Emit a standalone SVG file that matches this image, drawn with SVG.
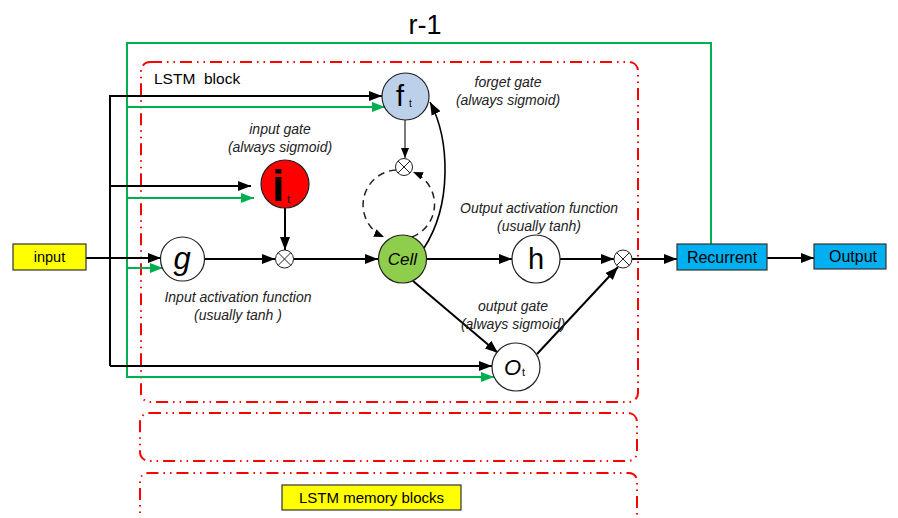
<svg xmlns="http://www.w3.org/2000/svg" width="898" height="518" viewBox="0 0 898 518">
<style>
text{font-family:"Liberation Sans",Arial,sans-serif;fill:#000}
.lbl{font-size:14px;font-style:italic;text-anchor:middle;fill:#222}
.blk{fill:none;stroke:#ff0000;stroke-width:2;stroke-dasharray:12 5 1.5 5 1.5 5}
.bl{fill:none;stroke:#000;stroke-width:2}
.gr{fill:none;stroke:#00b050;stroke-width:2}
.node{stroke:#222;stroke-width:1.2}
.mul circle{fill:#fff;stroke:#222;stroke-width:1}
.mul path{stroke:#222;stroke-width:1}
.box{stroke:#333;stroke-width:1.2}
</style>
<defs>
<marker id="ab" markerUnits="userSpaceOnUse" markerWidth="13" markerHeight="10" refX="13" refY="5" orient="auto"><path d="M0,0 L13,5 L0,10 z" fill="#000"/></marker>
<marker id="ag" markerUnits="userSpaceOnUse" markerWidth="13" markerHeight="10" refX="13" refY="5" orient="auto"><path d="M0,0 L13,5 L0,10 z" fill="#00b050"/></marker>
<marker id="as" markerUnits="userSpaceOnUse" markerWidth="10" markerHeight="8" refX="10" refY="4" orient="auto"><path d="M0,0 L10,4 L0,8 z" fill="#000"/></marker>
</defs>

<text x="425" y="34" font-size="27" text-anchor="middle">r-1</text>

<g id="blocks">
<rect class="blk" x="141" y="62" width="497" height="340" rx="9"/>
<rect class="blk" x="140" y="413" width="497" height="48" rx="9"/>
<path class="blk" d="M140,530 V482 Q140,473 149,473 H628 Q637,473 637,482 V530"/>
<text x="154" y="84" font-size="15.5" xml:space="preserve">LSTM  block</text>
</g>

<g id="connectors">
<path class="gr" d="M711,244 V43 H127 V377 H494" marker-end="url(#ag)"/>
<path class="gr" d="M127,107 H385" marker-end="url(#ag)"/>
<path class="gr" d="M127,198 H254" marker-end="url(#ag)"/>
<path class="gr" d="M127,268 H163" marker-end="url(#ag)"/>
<path class="bl" d="M110,366 V96 H382" marker-end="url(#ab)"/>
<path class="bl" d="M110,186 H251" marker-end="url(#ab)"/>
<path class="bl" d="M86,258 H161" marker-end="url(#ab)"/>
<path class="bl" d="M110,366 H492" marker-end="url(#ab)"/>
<path d="M405,120 V158" stroke="#222" stroke-width="1.2" marker-end="url(#as)"/>
<path d="M396,170 A35,35 0 0 0 384,237" fill="none" stroke="#222" stroke-width="1.5" stroke-dasharray="7 5" marker-end="url(#as)"/>
<path d="M412,237 A35,35 0 0 0 413,172" fill="none" stroke="#222" stroke-width="1.5" stroke-dasharray="7 5" marker-end="url(#as)"/>
<path d="M424,248 C452,205 450,140 430,102" fill="none" stroke="#000" stroke-width="1.6" marker-end="url(#ab)"/>
<path class="bl" d="M285,208 V250" marker-end="url(#ab)"/>
<path class="bl" d="M204,259 H275" marker-end="url(#ab)"/>
<path class="bl" d="M294,259 H378" marker-end="url(#ab)"/>
<path class="bl" d="M427,259 H512" marker-end="url(#ab)"/>
<path class="bl" d="M560,259 H614" marker-end="url(#ab)"/>
<path class="bl" d="M632,259 H677" marker-end="url(#ab)"/>
<path class="bl" d="M767,258 H814" marker-end="url(#ab)"/>
<path class="bl" d="M413,281 L498,353" marker-end="url(#ab)"/>
<path class="bl" d="M537,354 L618,267" marker-end="url(#ab)"/>
</g>

<g id="input"><rect class="box" x="13" y="244" width="73" height="26" fill="#ffff00"/><text x="49.5" y="262" font-size="14.5" text-anchor="middle">input</text></g>

<g id="forget"><circle class="node" cx="405.5" cy="96.5" r="23.5" fill="#bdd0ea"/><text x="396" y="106" font-size="29">f</text><text x="409" y="107" font-size="10">t</text>
<text class="lbl" x="508" y="87">forget gate</text><text class="lbl" x="508" y="105">(always sigmoid)</text></g>

<g id="mulf" class="mul"><circle cx="404" cy="167" r="8.5"/><path d="M398,161 L410,173 M410,161 L398,173"/></g>

<g id="inputgate"><circle class="node" cx="285" cy="184" r="24" fill="#ff0000"/><text x="272" y="201" font-size="44" font-weight="bold">i</text><text x="287" y="203" font-size="11">t</text>
<text class="lbl" x="280" y="134">input gate</text><text class="lbl" x="280" y="152">(always sigmoid)</text></g>

<g id="g"><circle class="node" cx="182.5" cy="259" r="22" fill="#fff"/><text x="182" y="269" font-size="31" font-style="italic" text-anchor="middle">g</text>
<text class="lbl" x="238" y="302">Input activation function</text><text class="lbl" x="238" y="320">(usually tanh )</text></g>

<g id="muli" class="mul"><circle cx="284.5" cy="259" r="9"/><path d="M278,252.5 L291,265.5 M291,252.5 L278,265.5"/></g>

<g id="cell"><circle class="node" cx="402.5" cy="259" r="24" fill="#8fce4c"/><text x="402.5" y="265" font-size="17" font-style="italic" text-anchor="middle">Cell</text></g>

<g id="h"><circle class="node" cx="536" cy="259" r="24" fill="#fff"/><text x="536" y="269" font-size="29" text-anchor="middle">h</text>
<text class="lbl" x="539" y="213">Output activation function</text><text class="lbl" x="539" y="231">(usually tanh)</text></g>

<g id="mulo" class="mul"><circle cx="623" cy="259" r="9"/><path d="M616.5,252.5 L629.5,265.5 M629.5,252.5 L616.5,265.5"/></g>

<g id="outgate"><circle class="node" cx="516" cy="367" r="24" fill="#fff"/><text x="504" y="375" font-size="22" font-style="italic">O</text><text x="522" y="376" font-size="11">t</text>
<text class="lbl" x="513" y="311">output gate</text><text class="lbl" x="513" y="329">(always sigmoid)</text></g>

<g id="recurrent"><rect class="box" x="677" y="244" width="90" height="26" fill="#00b0f0"/><text x="722" y="263" font-size="16" text-anchor="middle">Recurrent</text></g>

<g id="output"><rect class="box" x="814" y="244" width="72" height="25" fill="#00b0f0"/><text x="853" y="262" font-size="16" text-anchor="middle">Output</text></g>

<g id="memblocks"><rect class="box" x="282" y="485" width="179" height="25" fill="#ffff00"/><text x="371.5" y="503" font-size="15" text-anchor="middle">LSTM memory blocks</text></g>
</svg>
